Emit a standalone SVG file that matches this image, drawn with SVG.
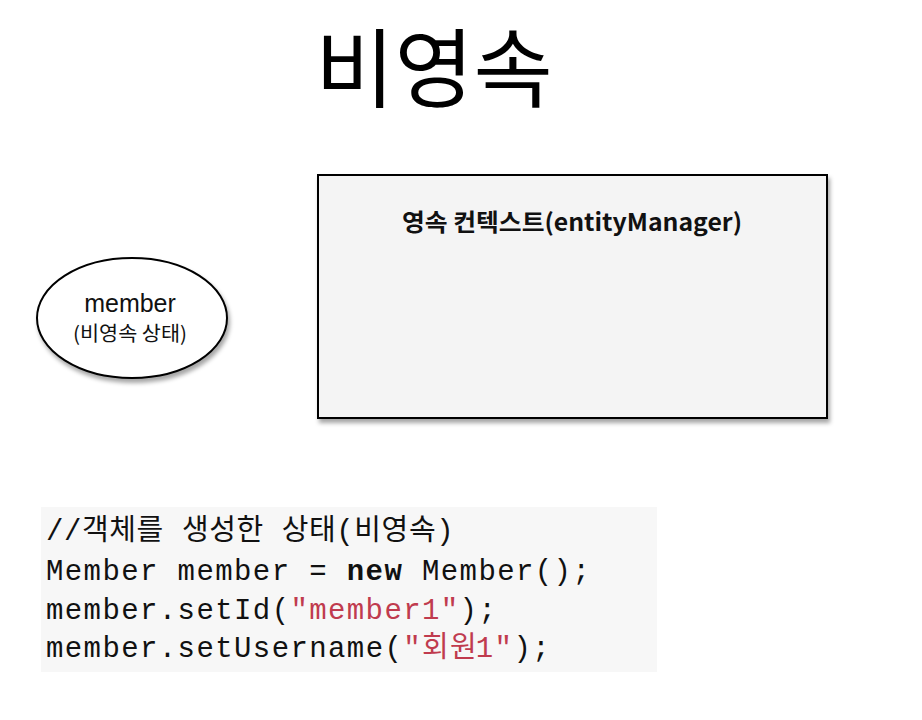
<svg xmlns="http://www.w3.org/2000/svg" width="922" height="720" viewBox="0 0 922 720">
<defs>
<filter id="shadow" x="-10%" y="-10%" width="125%" height="130%">
<feDropShadow dx="2" dy="4" stdDeviation="2" flood-color="#000" flood-opacity="0.35"/>
</filter>
<style>
.sans{font-family:"Liberation Sans","Noto Sans CJK KR",sans-serif;}
.kr{font-family:"Noto Sans CJK KR","Liberation Sans",sans-serif;}
.code{font-family:"Liberation Mono","Noto Sans CJK KR",monospace;font-size:29px;letter-spacing:1.4px;fill:#111;}
.str{fill:#c03b4e;}
</style>
</defs>
<rect width="922" height="720" fill="#fff"/>
<g id="title">
<text x="434" y="101" text-anchor="middle" class="kr" font-size="86" fill="#000">비영속</text>
</g>
<g id="persistence-context">
<rect x="318" y="175" width="509" height="243" fill="#f4f4f4" stroke="#000" stroke-width="2" filter="url(#shadow)"/>
<text x="402" y="231" class="kr" font-size="24" font-weight="bold" fill="#111" textLength="340" lengthAdjust="spacingAndGlyphs">영속 컨텍스트(entityManager)</text>
</g>
<g id="member">
<ellipse cx="132" cy="318" rx="95" ry="60" fill="#fff" stroke="#000" stroke-width="2" filter="url(#shadow)"/>
<text x="130" y="312" text-anchor="middle" class="sans" font-size="25" fill="#111">member</text>
<text x="73" y="341" class="kr" font-size="20" fill="#111" textLength="114" lengthAdjust="spacingAndGlyphs">(비영속 상태)</text>
</g>
<g id="connectors"></g>
<g id="code">
<rect x="41" y="507" width="616" height="165" fill="#f7f7f7"/>
<text class="code" x="46" y="540" textLength="409" lengthAdjust="spacing">//객체를 생성한 상태(비영속)</text>
<text class="code" y="580"><tspan x="46">Member member = </tspan><tspan x="346.8" font-weight="bold">new</tspan><tspan x="422">Member();</tspan></text>
<text class="code" y="619"><tspan x="46">member.setId(</tspan><tspan x="290.4" class="str">"member1"</tspan><tspan x="459.6">);</tspan></text>
<text class="code" y="657"><tspan x="46">member.setUsername(</tspan><tspan x="403.2" class="str">"</tspan><tspan x="422" class="str">회원</tspan><tspan x="475.8" class="str">1"</tspan><tspan x="513.4">);</tspan></text>
</g>
</svg>
